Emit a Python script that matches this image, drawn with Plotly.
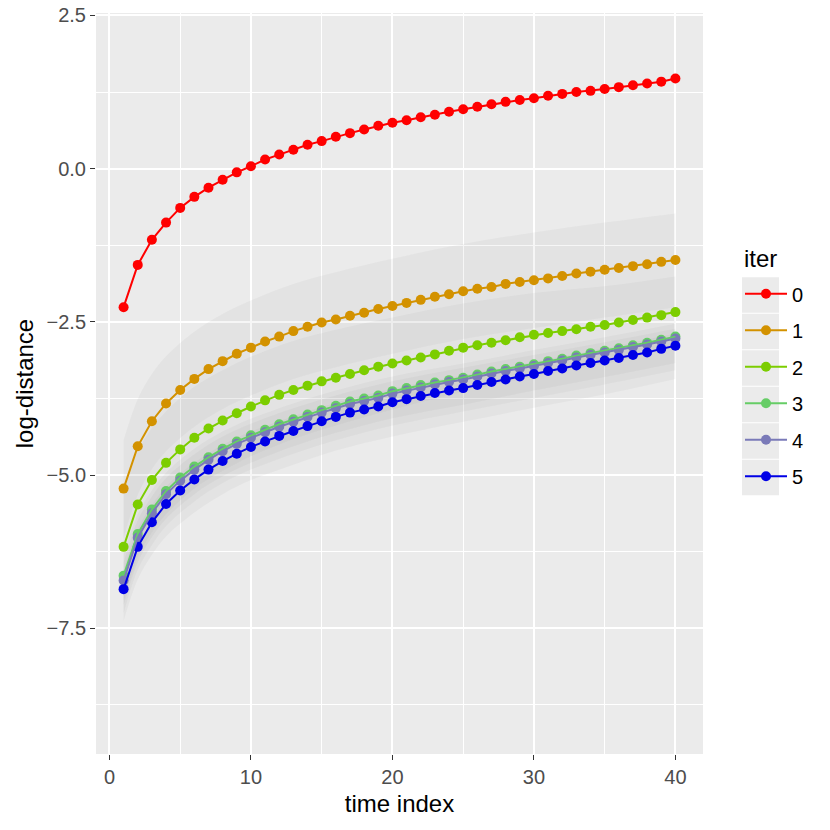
import plotly.graph_objects as go

# time index 1..40
time_idx = list(range(1, 41))

# log-distance per iteration
iter0 = [-2.26, -1.57, -1.16, -0.88, -0.64, -0.46, -0.31, -0.18, -0.06, 0.04,
         0.15, 0.23, 0.31, 0.39, 0.45, 0.52, 0.58, 0.64, 0.70, 0.75,
         0.79, 0.84, 0.88, 0.93, 0.97, 1.01, 1.05, 1.09, 1.12, 1.15,
         1.19, 1.22, 1.25, 1.27, 1.30, 1.33, 1.36, 1.39, 1.42, 1.47]
iter1 = [-5.22, -4.53, -4.12, -3.83, -3.61, -3.43, -3.27, -3.14, -3.02, -2.92,
         -2.82, -2.74, -2.65, -2.58, -2.51, -2.46, -2.40, -2.35, -2.29, -2.24,
         -2.19, -2.14, -2.09, -2.05, -2.00, -1.96, -1.93, -1.88, -1.85, -1.82,
         -1.79, -1.75, -1.71, -1.68, -1.65, -1.62, -1.59, -1.56, -1.52, -1.49]
iter2 = [-6.17, -5.48, -5.08, -4.80, -4.58, -4.39, -4.24, -4.11, -3.99, -3.88,
         -3.78, -3.69, -3.61, -3.54, -3.47, -3.41, -3.35, -3.29, -3.23, -3.18,
         -3.13, -3.08, -3.03, -2.97, -2.92, -2.88, -2.84, -2.80, -2.75, -2.71,
         -2.68, -2.65, -2.62, -2.58, -2.55, -2.51, -2.47, -2.43, -2.39, -2.34]
iter3 = [-6.64, -5.96, -5.56, -5.26, -5.04, -4.86, -4.71, -4.57, -4.45, -4.35,
         -4.26, -4.17, -4.09, -4.01, -3.94, -3.87, -3.80, -3.75, -3.70, -3.63,
         -3.58, -3.53, -3.49, -3.45, -3.41, -3.36, -3.31, -3.27, -3.23, -3.19,
         -3.14, -3.10, -3.05, -3.01, -2.97, -2.93, -2.88, -2.84, -2.79, -2.74]
iter4 = [-6.72, -6.02, -5.62, -5.31, -5.09, -4.91, -4.75, -4.61, -4.49, -4.39,
         -4.30, -4.21, -4.13, -4.05, -3.98, -3.91, -3.84, -3.79, -3.74, -3.67,
         -3.62, -3.57, -3.52, -3.48, -3.44, -3.39, -3.34, -3.30, -3.26, -3.22,
         -3.17, -3.13, -3.08, -3.04, -3.00, -2.96, -2.91, -2.87, -2.82, -2.77]
iter5 = [-6.86, -6.17, -5.77, -5.47, -5.25, -5.07, -4.91, -4.77, -4.65, -4.54,
         -4.45, -4.36, -4.28, -4.20, -4.12, -4.05, -3.98, -3.93, -3.88, -3.81,
         -3.76, -3.71, -3.66, -3.62, -3.58, -3.53, -3.48, -3.44, -3.39, -3.35,
         -3.30, -3.26, -3.21, -3.17, -3.13, -3.09, -3.04, -3.00, -2.94, -2.89]

# ribbons (bands) at a subset of time points
band_t = [1, 2, 3, 4, 6, 8, 10, 13, 16, 20, 25, 30, 35, 40]
band1_hi = [-4.43, -3.76, -3.35, -3.06, -2.66, -2.37, -2.15, -1.88, -1.69, -1.47, -1.23, -1.04, -0.88, -0.73]
band1_lo = [-6.02, -5.32, -4.90, -4.61, -4.21, -3.92, -3.70, -3.43, -3.24, -3.02, -2.78, -2.60, -2.43, -2.26]
band2_hi = [-5.30, -4.62, -4.23, -3.96, -3.56, -3.29, -3.07, -2.81, -2.63, -2.43, -2.20, -2.03, -1.92, -1.76]
band2_lo = [-7.04, -6.34, -5.93, -5.64, -5.22, -4.93, -4.69, -4.41, -4.19, -3.93, -3.64, -3.39, -3.18, -2.92]
band3_hi = [-6.30, -5.64, -5.25, -4.96, -4.57, -4.29, -4.08, -3.83, -3.62, -3.39, -3.18, -2.96, -2.75, -2.53]
band3_lo = [-7.12, -6.42, -6.01, -5.71, -5.31, -5.02, -4.80, -4.53, -4.31, -4.07, -3.85, -3.62, -3.40, -3.17]
band4_hi = [-6.43, -5.74, -5.35, -5.05, -4.66, -4.37, -4.16, -3.91, -3.70, -3.47, -3.25, -3.04, -2.83, -2.61]
band4_lo = [-7.25, -6.54, -6.14, -5.83, -5.43, -5.13, -4.91, -4.65, -4.43, -4.19, -3.96, -3.74, -3.52, -3.29]
band5_hi = [-6.56, -5.88, -5.49, -5.19, -4.80, -4.51, -4.29, -4.04, -3.82, -3.59, -3.37, -3.15, -2.93, -2.69]
band5_lo = [-7.38, -6.70, -6.30, -6.00, -5.61, -5.31, -5.08, -4.83, -4.60, -4.37, -4.13, -3.90, -3.68, -3.43]

iter_names = ['0', '1', '2', '3', '4', '5']
series = [iter0, iter1, iter2, iter3, iter4, iter5]
colors = ['#FF0000', '#D39200', '#7CCD00', '#66CD66', '#7A7AB8', '#0000E6']
bands = [(band1_lo, band1_hi, colors[1]), (band2_lo, band2_hi, colors[2]),
         (band3_lo, band3_hi, colors[3]), (band4_lo, band4_hi, colors[4]),
         (band5_lo, band5_hi, colors[5])]

FONT = 'Liberation Sans, Arial, sans-serif'
fig = go.Figure()

# gray ribbons
for lo, hi, col in bands:
    fig.add_trace(go.Scatter(x=band_t, y=lo, mode='lines', line=dict(width=0, shape='spline'),
                             hoverinfo='skip', showlegend=False))
    fig.add_trace(go.Scatter(x=band_t, y=hi, mode='lines', fill='tonexty',
                             fillcolor='rgba(128,128,128,0.075)',
                             line=dict(width=0, shape='spline'),
                             hoverinfo='skip', showlegend=False))

# points layer then lines layer (ggplot layer order)
for name, ys, col in zip(iter_names, series, colors):
    fig.add_trace(go.Scatter(x=time_idx, y=ys, mode='markers',
                             marker=dict(color=col, size=10), showlegend=False))
for name, ys, col in zip(iter_names, series, colors):
    fig.add_trace(go.Scatter(x=time_idx, y=ys, mode='lines',
                             line=dict(color=col, width=2), showlegend=False))

# legend entries
for name, col in zip(iter_names, colors):
    fig.add_trace(go.Scatter(x=[None], y=[None], mode='lines+markers', name=name,
                             legendgroup=name,
                             line=dict(color=col, width=2), marker=dict(color=col, size=10)))

# panel geometry in page pixels (used for legend keys)
PW, PH, PL, PB = 607, 741.5, 96, 754
box_top = 277
for i in range(6):
    y0 = box_top + i * 36.5
    fig.add_shape(type='rect', xref='paper', yref='paper',
                  x0=(742 - PL) / PW, x1=(779 - PL) / PW,
                  y0=(PB - (y0 + 35.5)) / PH, y1=(PB - y0) / PH,
                  fillcolor='#EBEBEB', line=dict(width=0), layer='below')

fig.add_annotation(text='iter', xref='paper', yref='paper',
                   x=(742 - PL) / PW, y=(PB - 258) / PH, xanchor='left', yanchor='middle',
                   showarrow=False, font=dict(size=24, color='black'))

fig.update_layout(
    width=830, height=830,
    margin=dict(l=96, r=127, t=12.5, b=76),
    paper_bgcolor='white', plot_bgcolor='#EBEBEB',
    font=dict(family=FONT, size=20, color='black'),
    showlegend=True,
    legend=dict(x=(740 - PL) / PW, xanchor='left', y=(PB - 274) / PH, yanchor='top',
                bgcolor='rgba(0,0,0,0)', tracegroupgap=7.5, itemwidth=42,
                font=dict(size=20)),
    xaxis=dict(range=[-0.95, 41.95], tickvals=[0, 10, 20, 30, 40], automargin=False,
               showgrid=True, gridcolor='white', gridwidth=1.5, zeroline=False,
               ticks='outside', ticklen=5, tickcolor='#333333', tickwidth=1.3,
               tickfont=dict(size=20, color='#4D4D4D'),
               minor=dict(dtick=5, tick0=0, showgrid=True, gridcolor='white', gridwidth=0.7),
               title=dict(text='time index', font=dict(size=24), standoff=8)),
    yaxis=dict(range=[-9.55, 2.54], tick0=0, dtick=2.5, tickformat='.1f', automargin=False,
               showgrid=True, gridcolor='white', gridwidth=1.5, zeroline=False,
               ticks='outside', ticklen=5, tickcolor='#333333', tickwidth=1.3,
               tickfont=dict(size=20, color='#4D4D4D'),
               minor=dict(dtick=1.25, tick0=0, showgrid=True, gridcolor='white', gridwidth=0.7),
               title=dict(text='log-distance', font=dict(size=24), standoff=6)),
)

# drop the default 8px page margin so the figure sits at the window corner
fig.write_html("out.html", config={'displayModeBar': False},
               post_script="document.body.style.margin='0';")
